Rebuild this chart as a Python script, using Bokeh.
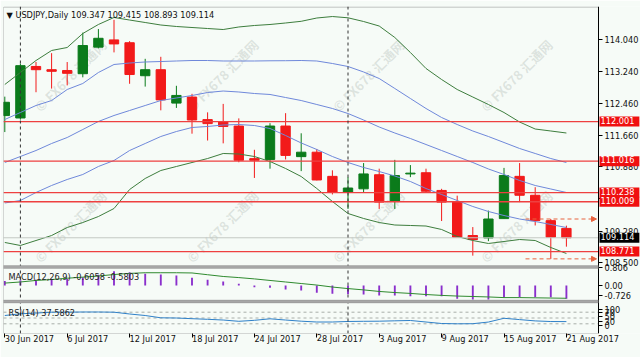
from bokeh.plotting import figure
from bokeh.models import (Range1d, FixedTicker, Span, BoxAnnotation, Label,
                          Arrow, NormalHead, ColumnDataSource)
from bokeh.embed import file_html
from bokeh.resources import INLINE

# ---------------- data ----------------
symbol = "USDJPY,Daily"
dates = ["30 Jun 2017", "3 Jul 2017", "4 Jul 2017", "5 Jul 2017", "6 Jul 2017", "7 Jul 2017",
         "10 Jul 2017", "11 Jul 2017", "12 Jul 2017", "13 Jul 2017", "14 Jul 2017",
         "17 Jul 2017", "18 Jul 2017", "19 Jul 2017", "20 Jul 2017", "21 Jul 2017",
         "24 Jul 2017", "25 Jul 2017", "26 Jul 2017", "27 Jul 2017", "28 Jul 2017",
         "31 Jul 2017", "1 Aug 2017", "2 Aug 2017", "3 Aug 2017", "4 Aug 2017",
         "7 Aug 2017", "8 Aug 2017", "9 Aug 2017", "10 Aug 2017", "11 Aug 2017",
         "14 Aug 2017", "15 Aug 2017", "16 Aug 2017", "17 Aug 2017", "18 Aug 2017",
         "21 Aug 2017"]
open_ = [112.15, 112.09, 113.37, 113.29, 113.27, 113.19, 113.85, 114.03, 113.96, 113.14,
         113.29, 112.46, 112.61, 112.05, 111.99, 111.89, 111.08, 111.06, 111.89, 111.13,
         111.24, 110.64, 110.25, 110.33, 110.68, 110.02, 110.70, 110.73, 110.29, 110.00,
         109.17, 109.11, 109.59, 110.64, 110.17, 109.54, 109.347]
high = [112.62, 113.44, 113.48, 113.70, 113.48, 114.21, 114.30, 114.53, 114.00, 113.56,
        113.61, 112.89, 112.69, 112.23, 112.44, 112.08, 111.30, 111.96, 112.21, 111.71,
        111.32, 110.79, 110.62, 110.97, 110.83, 111.05, 110.92, 110.83, 110.33, 110.16,
        109.38, 109.79, 110.85, 110.97, 110.37, 109.58, 109.415]
low = [111.74, 112.05, 112.73, 112.82, 112.90, 113.10, 113.82, 113.72, 112.94, 112.87,
       112.28, 112.34, 111.70, 111.53, 111.46, 110.99, 110.60, 110.83, 111.06, 110.77,
       110.54, 110.19, 109.83, 110.25, 109.83, 109.83, 110.62, 110.25, 109.53, 109.13,
       108.67, 109.03, 109.59, 110.00, 109.42, 108.59, 108.893]
close = [112.48, 113.39, 113.29, 113.25, 113.20, 113.89, 114.07, 113.93, 113.17, 113.29,
         112.54, 112.65, 112.04, 111.95, 111.88, 111.04, 111.04, 111.89, 111.16, 111.24,
         110.55, 110.25, 110.35, 110.70, 110.00, 110.66, 110.72, 110.27, 110.00, 109.13,
         109.07, 109.58, 110.66, 110.17, 109.54, 109.13, 109.114]

bb_upper2 = [112.922, 113.220, 113.518, 113.767, 113.841, 114.189, 114.413, 114.587, 114.524, 114.462,
             114.400, 114.363, 114.338, 114.313, 114.288, 114.351, 114.388, 114.413, 114.450, 114.492,
             114.574, 114.611, 114.579, 114.487, 114.375, 114.090, 113.717, 113.320, 113.046, 112.798,
             112.611, 112.425, 112.226, 111.990, 111.816, 111.767, 111.717]
bb_upper1 = [112.052, 112.226, 112.400, 112.524, 112.798, 112.947, 113.220, 113.419, 113.456, 113.481,
             113.493, 113.506, 113.518, 113.518, 113.506, 113.506, 113.506, 113.511, 113.513, 113.518,
             113.506, 113.444, 113.369, 113.233, 113.071, 112.823, 112.574, 112.326, 112.102, 111.928,
             111.767, 111.630, 111.481, 111.332, 111.208, 111.083, 110.984]
bb_mid = [110.984, 111.133, 111.282, 111.456, 111.605, 111.804, 112.003, 112.152, 112.276, 112.400,
          112.524, 112.587, 112.649, 112.723, 112.760, 112.736, 112.698, 112.674, 112.599, 112.524,
          112.425, 112.326, 112.201, 112.040, 111.866, 111.717, 111.580, 111.431, 111.282, 111.133,
          110.984, 110.823, 110.686, 110.537, 110.413, 110.326, 110.239]
bb_lower1 = [109.978, 110.040, 110.239, 110.413, 110.562, 110.686, 110.885, 111.034, 111.282, 111.456,
             111.630, 111.754, 111.854, 111.879, 111.916, 111.928, 111.903, 111.829, 111.655, 111.469,
             111.307, 111.133, 110.984, 110.860, 110.760, 110.649, 110.512, 110.338, 110.189, 110.040,
             109.891, 109.767, 109.667, 109.580, 109.518, 109.444, 109.369]
bb_lower2 = [108.997, 108.922, 109.046, 109.170, 109.369, 109.493, 109.642, 109.841, 110.313, 110.587,
             110.785, 110.885, 110.984, 111.083, 111.208, 111.195, 111.133, 111.009, 110.835, 110.636,
             110.338, 110.015, 109.717, 109.593, 109.493, 109.431, 109.419, 109.406, 109.320, 109.146,
             109.046, 108.972, 109.021, 109.071, 109.046, 108.872, 108.723]

macd = [0.20, 0.24, 0.26, 0.30, 0.30, 0.38, 0.49, 0.65, 0.60, 0.53,
        0.50, 0.45, 0.35, 0.26, 0.18, 0.08, -0.08, -0.10, -0.18, -0.23,
        -0.33, -0.38, -0.40, -0.41, -0.45, -0.45, -0.49, -0.49, -0.49, -0.60,
        -0.64, -0.64, -0.53, -0.53, -0.53, -0.53, -0.6058]
macd_signal = [0.11, 0.16, 0.23, 0.27, 0.33, 0.38, 0.43, 0.50, 0.55, 0.58,
               0.58, 0.58, 0.57, 0.49, 0.41, 0.36, 0.30, 0.23, 0.16, 0.09,
               0.02, -0.07, -0.14, -0.20, -0.27, -0.32, -0.36, -0.41, -0.45, -0.48,
               -0.50, -0.52, -0.55, -0.55, -0.56, -0.57, -0.5803]
rsi = [58.6, 64.5, 67.0, 70.0, 70.0, 70.7, 70.7, 70.0, 63.8, 58.6,
       50.7, 50.0, 47.6, 45.5, 43.0, 38.6, 42.0, 47.2, 43.0, 39.0,
       36.2, 36.2, 38.0, 38.6, 39.0, 40.3, 41.4, 36.2, 31.0, 30.0,
       30.3, 36.0, 49.0, 44.5, 40.0, 37.8, 37.5862]

levels = [112.001, 111.016, 110.238, 110.009, 108.771]
price_ticks = [114.04, 113.24, 112.46, 111.66, 110.88, 110.08, 109.28, 108.50]
macd_tick_labels = ["0.806", "0.00", "-0.726"]
rsi_tick_labels = ["100", "70", "50", "30", "0"]
month_starts = ["3 Jul 2017", "1 Aug 2017"]
date_tick_step = 4
watermark = "\u00a9 FX678 \u6c47\u901a\u7f51"

# ---------------- layout helpers (pixels -> data) ----------------
W, H = 640, 357
FL, FR, FT, FB = 3, 598, 6, 333          # panel edges in pixels (axis line at FR)
BAR0_PX, BAR_PX = 4.3, 15.6
def xi(px):
    return (px - BAR0_PX) / BAR_PX
def yp(py):
    return 114.04 - (py - 39.0) / 40.25
MACD_ZERO_PX, MACD_PX = 285.0, 22.0
RSI50_PX, RSI_PX = 317.5, 0.29

BG = "#f6fbf7"
FONT = "DejaVu Sans"
FS = "8.2px"
UP, DOWN = "#0b7b1b", "#f21a1a"

p = figure(width=W, height=H, title=None, output_backend="svg", toolbar_location=None, tools="",
           x_range=Range1d(xi(FL), xi(W)), y_range=Range1d(yp(FB), yp(FT)),
           y_axis_location="right",
           min_border_left=FL, min_border_right=0, min_border_top=FT, min_border_bottom=H - FB,
           background_fill_color=BG, border_fill_color=BG, outline_line_color=None)
p.grid.visible = False
p.extra_y_ranges = {
    "macd": Range1d((MACD_ZERO_PX - FB) / MACD_PX, (MACD_ZERO_PX - FT) / MACD_PX),
    "rsi": Range1d(50 - (FB - RSI50_PX) / RSI_PX, 50 + (RSI50_PX - FT) / RSI_PX),
}

n = len(dates)
idx = list(range(n))
XL, XR = xi(FL), xi(FR)

# watermarks (behind everything)
for wy in (75, 226):
    for wx in (70, 222, 368, 516):
        p.add_layout(Label(x=xi(wx), y=yp(wy), text=watermark, angle=45, angle_units="deg",
                           text_align="center", text_baseline="middle",
                           text_font="Noto Sans CJK SC", text_font_size="13px",
                           text_font_style="bold", text_color="#9aa6a0", text_alpha=0.28,
                           level="underlay"))

# candles
src = ColumnDataSource(dict(
    x=idx, top=[max(o, c) for o, c in zip(open_, close)],
    bottom=[min(o, c) for o, c in zip(open_, close)],
    high=high, low=low,
    color=[UP if c >= o else DOWN for o, c in zip(open_, close)]))
p.segment(x0="x", y0="low", x1="x", y1="high", color="color", line_width=1, source=src)
p.vbar(x="x", top="top", bottom="bottom", width=0.6, fill_color="color", line_color="color",
       line_width=1, source=src)

# bollinger bands
for arr, col in ((bb_upper2, "#3d7d3d"), (bb_lower2, "#3d7d3d"),
                 (bb_upper1, "#6f88da"), (bb_mid, "#6f88da"), (bb_lower1, "#6f88da")):
    p.line(idx, arr, line_color=col, line_width=1)

# bid line and horizontal levels
p.segment(x0=[XL], x1=[XR], y0=[close[-1]], y1=[close[-1]], line_color="#c3c9c4", line_width=1)
p.segment(x0=[XL] * len(levels), x1=[XR] * len(levels), y0=levels, y1=levels,
          line_color="#ee4040", line_width=1.3)

# previous day high / low dashed arrows
for lv in (high[-2], low[-2]):
    p.add_layout(Arrow(end=NormalHead(size=5, fill_color="#e8623e", line_color="#e8623e"),
                       x_start=xi(525), y_start=lv, x_end=xi(596), y_end=lv,
                       line_color="#e8623e", line_dash="4 3", line_width=1))

# MACD panel
p.vbar(x=idx, top=macd, bottom=0, width=0.12, fill_color="#8a2fcc", line_color=None,
       y_range_name="macd")
p.line(idx, macd_signal, line_color="#2f8a2f", line_width=1, y_range_name="macd")

# RSI panel
for lv in (70, 50, 30):
    p.segment(x0=[XL], x1=[XR], y0=[lv], y1=[lv], y_range_name="rsi",
              line_color="#a9aea9", line_dash="3 3", line_width=1)
p.line(idx, rsi, line_color="#2f80c8", line_width=1, y_range_name="rsi")

# period separators (month starts)
for d in month_starts:
    p.add_layout(Span(location=dates.index(d), dimension="height", line_color="#333333",
                      line_dash="3 3", line_width=1))

# panel separators
for t, b in ((265, 268), (299.5, 302.5)):
    p.add_layout(BoxAnnotation(left=XL, right=XR, top=yp(t), bottom=yp(b), fill_color="#a6a6a6",
                               fill_alpha=1, line_color="#707070", line_width=0.8))
# chart frame
p.add_layout(BoxAnnotation(left=XL, right=XR, top=yp(FT + 0.5), bottom=yp(FB), fill_alpha=0,
                           line_color="black", line_width=1))

# titles
p.add_layout(Label(x=xi(6), y=yp(14.5), text="\u25bc  " + symbol + "  " +
                   " ".join(f"{v:.3f}" for v in (open_[-1], high[-1], low[-1], close[-1])),
                   text_font=FONT, text_font_size=FS, text_color="#111111",
                   text_baseline="middle"))
p.add_layout(Label(x=xi(8), y=yp(276.5),
                   text=f"MACD(12,26,9) {macd[-1]:.4f} {macd_signal[-1]:.4f}",
                   text_font=FONT, text_font_size=FS, text_color="#222222", text_baseline="middle"))
p.add_layout(Label(x=xi(8), y=yp(312.5), text=f"RSI(14) {rsi[-1]:.4f}",
                   text_font=FONT, text_font_size=FS, text_color="#222222", text_baseline="middle"))

# right axis (fixed at the panel edge): prices + indicator scales
ticks, overrides = [], {}
for t in price_ticks:
    ticks.append(t)
    overrides[t] = f"{t:.3f}"
for lab, py in zip(macd_tick_labels, (267.0, 285.3, 295.0)):
    t = round(yp(py), 4)
    ticks.append(t)
    overrides[t] = lab
for lab, py in zip(rsi_tick_labels, (308.5, 311.5, 316.5, 321.5, 324.5)):
    t = round(yp(py), 4)
    ticks.append(t)
    overrides[t] = lab
ya = p.yaxis[0]
ya.fixed_location = XR
ya.ticker = FixedTicker(ticks=ticks)
ya.major_label_overrides = overrides
ya.axis_line_color = "black"
ya.major_tick_line_color = "black"
ya.major_tick_out = 4
ya.major_tick_in = 0
ya.minor_tick_out = 0
ya.minor_tick_in = 0
ya.major_label_standoff = 2
ya.major_label_text_font = FONT
ya.major_label_text_font_size = FS
ya.major_label_text_color = "#111111"

xa = p.xaxis[0]
xa.ticker = FixedTicker(ticks=list(range(0, n, date_tick_step)))
xa.major_label_overrides = {i: dates[i] for i in range(0, n, date_tick_step)}
xa.major_label_orientation = -0.0001
xa.axis_line_color = None
xa.major_tick_line_color = "black"
xa.major_tick_out = 4
xa.major_tick_in = 0
xa.minor_tick_out = 0
xa.minor_tick_in = 0
xa.major_label_standoff = 1
xa.major_label_text_font = FONT
xa.major_label_text_font_size = FS
xa.major_label_text_color = "#111111"

# price label boxes on the axis
for lv in levels:
    p.add_layout(Label(x=xi(599), y=lv, text=f"{lv:.3f}", text_font=FONT, text_font_size=FS,
                       text_color="white", text_baseline="middle", background_fill_color="#f01010",
                       padding=(1, 5, 0, 3)))
p.add_layout(Label(x=xi(599), y=close[-1], text=f"{close[-1]:.3f}", text_font=FONT,
                   text_font_size=FS, text_color="white", text_baseline="middle",
                   background_fill_color="#000000", padding=(1, 5, 0, 3)))

open("out.html", "w").write(file_html(p, INLINE))
